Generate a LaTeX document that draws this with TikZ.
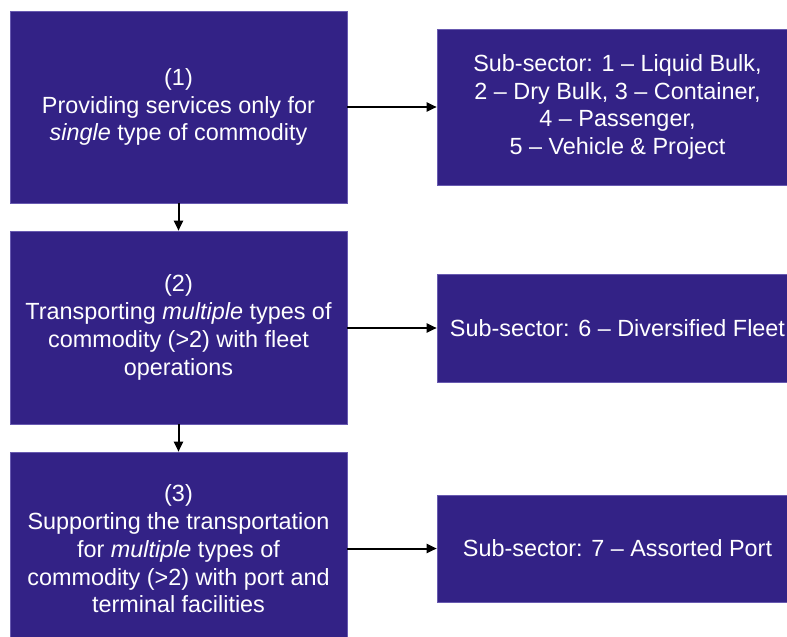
\documentclass[tikz,border=0pt]{standalone}
\usepackage{fontspec}
\setmainfont{Liberation Sans}
\usetikzlibrary{arrows.meta}
\usetikzlibrary{positioning}
\definecolor{boxblue}{RGB}{51,34,134}
\definecolor{boxedge}{RGB}{104,90,176}

\begin{document}
\begin{tikzpicture}[x=1pt, y=-1pt,
	level/.style={rectangle, fill=boxblue, draw=boxedge, line width=0.6pt, text=white, align=center,
		font=\fontsize{23.4}{27.8}\selectfont, minimum width=337pt, inner sep=0pt},
	subsector/.style={level, minimum width=361pt},
	link/.style={line width=2pt, -{Triangle[length=10pt,width=9pt]}}]
	\path[use as bounding box, clip] (0,0) rectangle (787,637);
	
	\node[level, minimum height=192pt] (1) at (178.5,107) {(1)\\Providing services only for\\\textit{single} type of commodity};
	\node[level, minimum height=193pt] (2) at (178.5,327.5) {(2)\\Transporting \textit{multiple} types of\\commodity (>2) with fleet\\operations};
	\node[level, minimum height=194pt] (3) at (178.5,549) {(3)\\Supporting the transportation\\for \textit{multiple} types of\\commodity (>2) with port and\\terminal facilities};
	
	\node[subsector, minimum height=156pt] (a) at (617.5,107) {Sub-sector: 1 -- Liquid Bulk,\\2 -- Dry Bulk, 3 -- Container,\\4 -- Passenger,\\5 -- Vehicle \& Project};
	\node[subsector, minimum height=108pt] (b) at (617.5,328) {Sub-sector: 6 -- Diversified Fleet};
	\node[subsector, minimum height=107pt] (c) at (617.5,548.5) {Sub-sector: 7 -- Assorted Port};
	
	\draw[link] (1.south) -- (2.north);
	\draw[link] (2.south) -- (3.north);
	\draw[link] (1.east) -- (a.west);
	\draw[link] (2.east |- b.west) -- (b.west);
	\draw[link] (3.east |- c.west) -- (c.west);
\end{tikzpicture}
\end{document}
